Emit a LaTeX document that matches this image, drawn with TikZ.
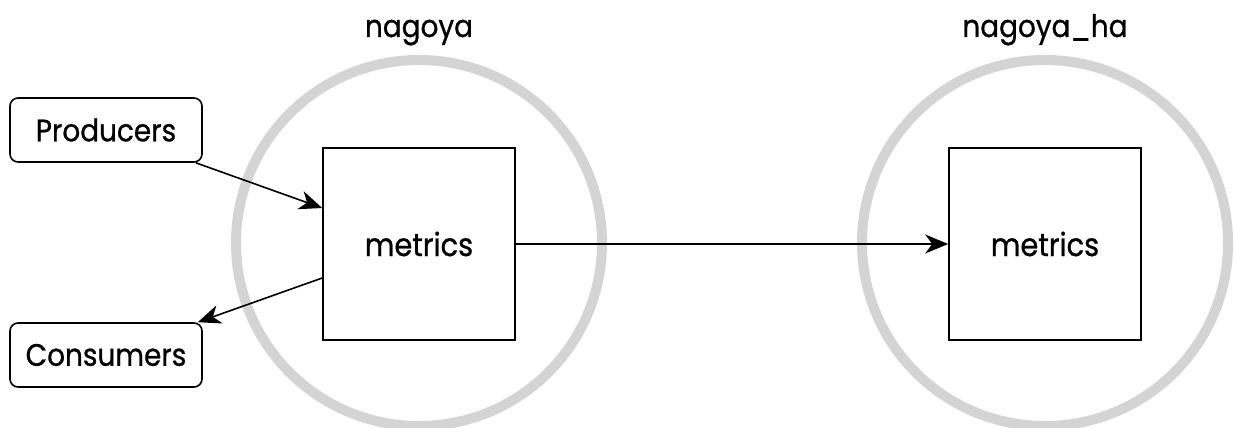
\documentclass[tikz,border=0pt]{standalone}
\usepackage{fontspec}
\setmainfont{Poppins}[FakeStretch=0.9, FakeBold=0.8]
\usetikzlibrary{arrows.meta}
\tikzset{
  zone/.style={draw=black!17, line width=10pt},
  topic/.style={draw=black, line width=1.6pt, minimum width=192pt, minimum height=192pt, inner sep=0pt, font=\fontsize{32}{36}\selectfont},
  client/.style={draw=black, line width=1.6pt, rounded corners=8pt, minimum width=192pt, minimum height=64pt, inner sep=0pt, font=\fontsize{31}{35}\selectfont},
  zonelabel/.style={font=\fontsize{31}{35}\selectfont, anchor=base},
  flow/.style={draw=black, line width=1.6pt, -{Stealth[length=23pt,width=19pt,inset=7pt]}},
}
\begin{document}
\begin{tikzpicture}[x=1pt,y=-1pt]
\useasboundingbox (0,0) rectangle (1234,428);
\fill[white] (0,0) rectangle (1234,428);
\draw[zone] (419,243) circle[radius=183pt];
\draw[zone] (1045,243) circle[radius=183pt];
\node[zonelabel] (l1) at (419,37) {nagoya};
\node[zonelabel] (l2) at (1045,37) {nagoya\_ha};
\node[topic] (m1) at (419,244) {metrics};
\node[topic] (m2) at (1045,244) {metrics};
\node[client] (prod) at (106,130) {Producers};
\node[client] (cons) at (106,355) {Consumers};
\draw[flow] ([xshift=-7pt]prod.south east) -- ([yshift=36pt]m1.west);
\draw[flow] ([yshift=-34pt]m1.west) -- ([xshift=-5pt]cons.north east);
\draw[flow] (m1.east) -- (m2.west);
\end{tikzpicture}
\end{document}
